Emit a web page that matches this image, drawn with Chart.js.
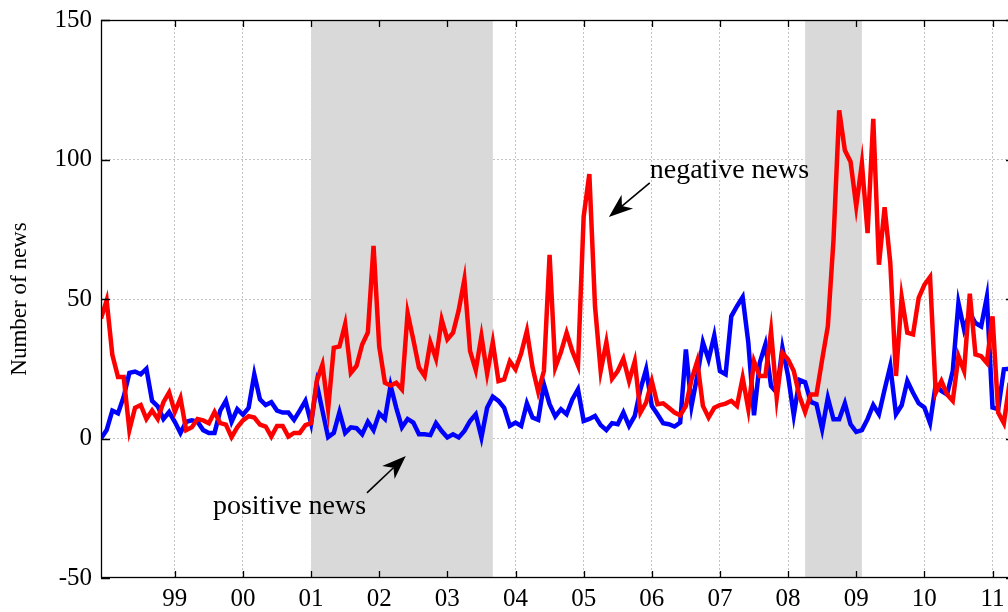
<!DOCTYPE html>
<html><head><meta charset="utf-8">
<script src="https://cdn.jsdelivr.net/npm/chart.js@4.4.1/dist/chart.umd.min.js"></script>
<style>
html,body{margin:0;padding:0;background:#fff;overflow:hidden;width:1008px;height:612px}
#wrap{width:1016px;height:612px}
canvas{display:block}
</style></head><body>
<div id="wrap"><canvas id="c" width="1016" height="612"></canvas></div>
<script>
// monthly series, first observation December 1997
const startYear = 1997, startMonth = 12;
const negativeNews = [
 43,49.5,30,22,22,3,11,12,7,10,
 7,13,16.5,9.5,14.5,3,4,7,6.5,5.5,
 9.5,5.5,5,0.5,4,6.5,8,7.5,5,4.3,
 0.7,4.5,4.5,0.7,2,2,4.8,5.5,20.6,26.5,
 10.5,32.5,33,41,23.5,26,33.7,38,69,33,
 20,19,20,17.6,45,35.5,25.4,22.4,34.5,28.6,
 42.6,35.5,37.9,46,57,31.3,24.5,36.7,23.3,34.5,
 20.6,21.2,27.7,24.8,30.5,38.5,25.4,16.7,24.2,65.8,
 25.4,31,37.9,31.3,26.2,79.5,94.8,47.4,24.2,34.5,
 21.4,24.2,28.6,20.6,27.7,9.3,12.9,20.6,12.3,12.6,
 11,9.3,8.3,11.7,21.2,27.7,11.7,7.5,11,12,
 12.5,13.5,11.7,21.8,10.5,27.7,22.4,22.4,38.5,14.6,
 30.7,28.3,24.2,15.2,9.5,15.8,15.8,28.3,40.2,71.2,
 117.6,103.3,99.2,83.3,98.6,73.6,114.6,62.3,82.9,62.9,
 22.4,50.7,37.9,37.3,50.4,55.1,57.9,16.4,20.6,15.8,
 13.5,29.5,24.2,51.9,30.1,29.5,27.1,43.8,9.3,5.5,
 20
];
const positiveNews = [
 0,3,10,9,15,23.5,24,23,25,13.5,
 11.5,7,9.5,6,2,6,6.5,6,3,2,
 2,10,13.5,6,10.5,8.5,11,23,14,12,
 13,10,9.3,9.3,6.7,10,13.5,5.5,19.5,10,
 0.5,2,9.5,2,4,3.7,1.5,6,3,9,
 7,19,11,4,7,5.7,1.5,1.5,1.2,5.5,
 2.7,0.4,1.5,0.4,2.7,6.3,8.7,0.4,11,15,
 13.5,11,4.5,5.7,4.5,12.6,7.5,6.7,19.4,12.3,
 7.9,10.5,8.7,14,17.6,6.3,7,8.1,4.8,3,
 5.5,5.1,9.3,4.5,8.1,17.6,24.8,11.7,8.7,5.5,
 5.1,4.3,5.7,31.9,11.7,22.4,34.5,28.3,36.9,24.2,
 23,43.8,47.4,50.7,34.3,8.3,27.1,33.7,18.8,16.4,
 32.5,22.4,8.3,21,20.2,13.1,12.3,3.3,14.6,6.9,
 6.9,12.6,5.1,2.4,3,7,12,8.7,17.6,26,
 8.7,11.9,20.6,16.4,12.6,11.1,5.5,19.4,17,15.8,
 24.2,48.6,39,45,41.4,40.2,50.7,11.1,10.5,24.8,
 25
];
const yearTicks = [1999,2000,2001,2002,2003,2004,2005,2006,2007,2008,2009,2010,2011];
const yearTickLabels = ['99','00','01','02','03','04','05','06','07','08','09','10','11'];
const yTicks = [-50,0,50,100,150];
const yTickLabels = ['-50','0','50','100','150'];
const shadedPeriods = [[2001.0, 2003.667], [2008.25, 2009.083]];
const xRange = [1997.917, 2011.33];
const yRange = [-50, 150];
const annotations = [
  {text:'negative news', tx:2005.97, ty:93.4, from:[2005.97, 91.6], to:[2005.37, 79.4]},
  {text:'positive news', tx:1999.56, ty:-27.1, from:[2001.82, -19.5], to:[2002.39, -6.3]}
];

const toPts = arr => arr.map((v, i) => ({x: startYear + (startMonth - 1 + i) / 12, y: v}));

const shadePlugin = {
  id: 'shade',
  beforeDatasetsDraw(chart) {
    const {ctx, chartArea: a, scales: {x}} = chart;
    ctx.save();
    ctx.fillStyle = '#d9d9d9';
    shadedPeriods.forEach(([s, e]) => {
      const x0 = x.getPixelForValue(s), x1 = x.getPixelForValue(e);
      ctx.fillRect(x0, a.top, x1 - x0, a.bottom - a.top);
    });
    ctx.restore();
  }
};

function drawArrow(ctx, x0, y0, x1, y1) {
  const dx = x1 - x0, dy = y1 - y0, len = Math.hypot(dx, dy);
  const ux = dx / len, uy = dy / len, nx = -uy, ny = ux;
  const L = 24, W = 9, N = 17;
  ctx.beginPath();
  ctx.moveTo(x0, y0);
  ctx.lineTo(x1 - ux * N, y1 - uy * N);
  ctx.lineWidth = 1.6;
  ctx.strokeStyle = '#000';
  ctx.stroke();
  ctx.beginPath();
  ctx.moveTo(x1, y1);
  ctx.lineTo(x1 - ux * L + nx * W, y1 - uy * L + ny * W);
  ctx.lineTo(x1 - ux * N, y1 - uy * N);
  ctx.lineTo(x1 - ux * L - nx * W, y1 - uy * L - ny * W);
  ctx.closePath();
  ctx.fillStyle = '#000';
  ctx.fill();
}

const framePlugin = {
  id: 'frame',
  afterDatasetsDraw(chart) {
    const {ctx, chartArea: a, scales: {x, y}} = chart;
    ctx.save();
    ctx.strokeStyle = '#000';
    ctx.lineWidth = 1.3;
    ctx.strokeRect(a.left + 0.5, a.top + 0.5, a.right - a.left - 1, a.bottom - a.top - 1);
    ctx.beginPath();
    yTicks.forEach(v => {
      const py = Math.round(y.getPixelForValue(v)) + 0.5;
      ctx.moveTo(a.left, py); ctx.lineTo(a.left + 9, py);
      ctx.moveTo(a.right, py); ctx.lineTo(a.right - 9, py);
    });
    yearTicks.forEach(v => {
      const px = Math.round(x.getPixelForValue(v)) + 0.5;
      ctx.moveTo(px, a.bottom); ctx.lineTo(px, a.bottom - 7);
      ctx.moveTo(px, a.top); ctx.lineTo(px, a.top + 7);
    });
    ctx.stroke();
    // annotations
    ctx.font = '28px "Liberation Serif", "Times New Roman", serif';
    ctx.fillStyle = '#000';
    ctx.textAlign = 'left';
    ctx.textBaseline = 'alphabetic';
    annotations.forEach(an => {
      ctx.fillText(an.text, x.getPixelForValue(an.tx), y.getPixelForValue(an.ty));
      drawArrow(ctx, x.getPixelForValue(an.from[0]), y.getPixelForValue(an.from[1]),
                     x.getPixelForValue(an.to[0]), y.getPixelForValue(an.to[1]));
    });
    ctx.restore();
  }
};

const tickFont = {family: '"Liberation Serif", serif', size: 25};
const noPad = s => { s.paddingTop = 0; s.paddingBottom = 0; s.paddingLeft = 0; s.paddingRight = 0; };
new Chart(document.getElementById('c'), {
  type: 'line',
  data: {
    datasets: [
      {label: 'negative news', data: toPts(negativeNews), borderColor: '#ff0000', backgroundColor: '#ff0000',
       borderWidth: 4.5, pointRadius: 0, tension: 0, fill: false, borderJoinStyle: 'miter'},
      {label: 'positive news', data: toPts(positiveNews), borderColor: '#0000ff', backgroundColor: '#0000ff',
       borderWidth: 4.5, pointRadius: 0, tension: 0, fill: false, borderJoinStyle: 'miter'}
    ]
  },
  options: {
    responsive: false, animation: false, devicePixelRatio: 1,
    layout: {padding: {top: 20, right: 1, left: 0, bottom: 0}, autoPadding: false},
    plugins: {legend: {display: false}, tooltip: {enabled: false}},
    scales: {
      x: {
        type: 'linear', min: xRange[0], max: xRange[1],
        afterBuildTicks: s => { s.ticks = yearTicks.map(v => ({value: v})); },
        afterFit: s => { s.height = 34; noPad(s); },
        ticks: {callback: v => { const k = yearTicks.indexOf(v); return k >= 0 ? yearTickLabels[k] : ''; },
                font: tickFont, color: '#000', padding: 6, maxRotation: 0, autoSkip: false},
        grid: {drawTicks: false, color: '#c4c4c4', lineWidth: 1},
        border: {display: false, dash: [2, 2]}
      },
      y: {
        min: yRange[0], max: yRange[1],
        afterBuildTicks: s => { s.ticks = yTicks.map(v => ({value: v})); },
        afterFit: s => { s.width = 101; noPad(s); },
        ticks: {callback: v => { const k = yTicks.indexOf(v); return k >= 0 ? yTickLabels[k] : ''; },
                font: tickFont, color: '#000', padding: 9},
        grid: {drawTicks: false, lineWidth: 1,
               color: c => (c.tick && c.tick.value > yRange[0] && c.tick.value < yRange[1]) ? '#c4c4c4' : 'rgba(0,0,0,0)'},
        border: {display: false, dash: [2, 2]},
        title: {display: true, text: 'Number of news', color: '#000',
                font: {family: '"Liberation Serif", serif', size: 23}, padding: {top: 6, bottom: 0}}
      }
    }
  },
  plugins: [shadePlugin, framePlugin]
});
</script>
</body></html>
